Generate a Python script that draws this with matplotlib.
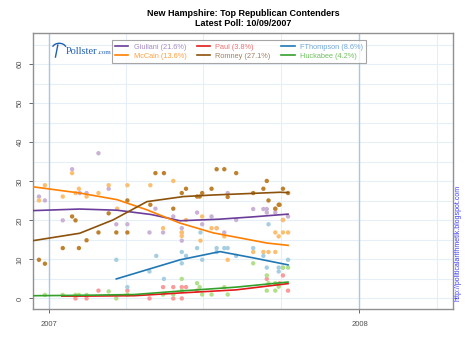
# -*- coding: utf-8 -*-
"""
New Hampshire: Top Republican Contenders - Pollster.com style chart
"""
import numpy as np
import matplotlib
matplotlib.use('Agg')
import matplotlib.pyplot as plt
import matplotlib.dates as mdates
from matplotlib.lines import Line2D
from matplotlib.patches import Arc

plt.rcParams['font.family'] = ['Liberation Sans', 'DejaVu Sans']

# days counted from 2007-01-01
base = np.datetime64('2007-01-01')

candidates = ['Giuliani', 'McCain', 'Paul', 'Romney', 'FThompson', 'Huckabee']
latest = [21.6, 13.6, 3.8, 27.1, 8.6, 4.2]

# trend lines
giuliani_trend_d = [-19, 36, 80, 120, 154, 200, 240, 281]
giuliani_trend_v = [22.5, 22.9, 22.6, 21.5, 19.9, 20.3, 20.9, 21.6]
mccain_trend_d = [-19, 36, 80, 115, 154, 193, 256, 281]
mccain_trend_v = [28.6, 27.0, 25.3, 22.7, 19.3, 16.8, 14.2, 13.6]
paul_trend_d = [15, 36, 100, 154, 220, 281]
paul_trend_v = [0.6, 0.6, 0.7, 1.4, 2.2, 3.8]
romney_trend_d = [-19, 36, 75, 115, 158, 193, 272, 281]
romney_trend_v = [14.8, 16.7, 20.1, 24.8, 26.1, 26.5, 27.2, 27.1]
fthompson_trend_d = [79, 154, 201, 240, 281]
fthompson_trend_v = [5.0, 9.9, 12.0, 10.4, 8.6]
huckabee_trend_d = [-19, 36, 100, 154, 220, 281]
huckabee_trend_v = [0.7, 0.8, 1.0, 1.9, 2.9, 4.2]

# individual polls
giuliani_poll_d = [-12, -5, 16, 27, 36, 44, 58, 70, 79, 92, 118, 125, 134, 146,
                   156, 156, 156, 174, 180, 191, 197, 206, 210, 220, 240, 252,
                   256, 256, 266, 266, 275, 281]
giuliani_poll_v = [26.1, 25.1, 20.0, 33.1, 27.0, 27.0, 37.2, 28.1, 19.0, 19.0,
                   16.9, 23.0, 16.9, 21.0, 18.0, 16.9, 14.8, 22.0, 19.0, 21.0,
                   18.0, 16.9, 27.0, 20.1, 22.9, 22.9, 22.9, 22.0, 22.9, 22.0,
                   20.1, 21.0]
mccain_poll_d = [-12, -5, 16, 27, 31, 35, 44, 58, 70, 80, 92, 119, 134, 146,
                 156, 156, 161, 178, 180, 191, 197, 206, 210, 240, 252, 258,
                 266, 266, 270, 275, 275, 281]
mccain_poll_v = [25.1, 29.0, 26.1, 32.1, 27.0, 28.1, 26.1, 27.0, 29.0, 23.0,
                 29.0, 29.0, 18.0, 30.1, 16.9, 16.0, 20.1, 14.8, 21.0, 18.0,
                 18.0, 15.9, 9.9, 11.9, 11.9, 11.9, 11.9, 16.9, 15.9, 16.9,
                 20.1, 16.9]
paul_poll_d = [31, 44, 58, 92, 118, 134, 146, 146, 156, 156, 161, 174, 256,
               271, 275, 281]
paul_poll_v = [0.0, 0.0, 2.0, 2.0, 0.0, 2.9, 2.9, 0.0, 2.9, 0.0, 2.9, 2.0, 5.0,
               3.9, 5.9, 2.0]
romney_poll_d = [-12, -5, 16, 27, 31, 35, 44, 58, 70, 79, 92, 92, 119, 125,
                 135, 146, 156, 161, 174, 177, 180, 191, 197, 206, 210, 220,
                 240, 252, 256, 258, 266, 270, 271, 275, 281]
romney_poll_v = [9.9, 8.9, 12.9, 21.0, 20.0, 12.9, 14.9, 16.9, 21.8, 16.9,
                 16.9, 25.1, 24.0, 32.1, 32.1, 23.0, 27.0, 28.1, 26.1, 26.1,
                 27.0, 28.1, 33.1, 33.1, 26.0, 32.1, 27.0, 28.1, 30.1, 25.1,
                 23.0, 24.0, 24.0, 28.1, 27.0]
fthompson_poll_d = [79, 92, 118, 126, 135, 156, 161, 156, 174, 178, 180, 197,
                    197, 206, 210, 220, 240, 252, 256, 258, 270, 270, 275, 281]
fthompson_poll_v = [9.9, 2.9, 6.9, 10.9, 5.0, 11.9, 10.9, 9.0, 12.9, 16.9, 9.9,
                    12.9, 11.9, 12.9, 12.9, 10.9, 12.9, 10.9, 7.9, 19.0, 7.9,
                    6.9, 7.9, 9.9]
huckabee_poll_d = [-5, 16, 31, 35, 44, 70, 79, 92, 134, 146, 156, 156, 174, 177,
                   180, 191, 206, 210, 240, 256, 258, 266, 256, 266, 270, 275,
                   281]
huckabee_poll_v = [0.9, 0.9, 0.9, 0.9, 0.9, 1.8, 0.0, 1.0, 1.0, 1.0, 2.0, 5.0,
                   3.9, 2.9, 1.0, 1.0, 2.9, 1.0, 9.0, 5.9, 3.9, 3.9, 2.0, 2.0,
                   3.0, 7.9, 7.9]

line_colors = ['#6a3d9a', '#ff7f00', '#e31a1c', '#8c510a', '#1f78b4', '#33a02c']
dot_colors = ['#cab2d6', '#fdbf6f', '#fb9a99', '#bf812d', '#a6cee3', '#b2df8a']
text_colors = ['#a58cc8', '#ffa040', '#f07070', '#a08060', '#70a8d8', '#70c060']

trends = [(giuliani_trend_d, giuliani_trend_v), (mccain_trend_d, mccain_trend_v),
          (paul_trend_d, paul_trend_v), (romney_trend_d, romney_trend_v),
          (fthompson_trend_d, fthompson_trend_v),
          (huckabee_trend_d, huckabee_trend_v)]
polls = [(giuliani_poll_d, giuliani_poll_v), (mccain_poll_d, mccain_poll_v),
         (paul_poll_d, paul_poll_v), (romney_poll_d, romney_poll_v),
         (fthompson_poll_d, fthompson_poll_v),
         (huckabee_poll_d, huckabee_poll_v)]


def to_dates(days):
    return (base + np.array(days, dtype='timedelta64[D]')).astype('datetime64[D]').astype(object)


fig = plt.figure(figsize=(4.7, 3.52), dpi=100)
ax = fig.add_axes([0.0702, 0.1222, 0.8936, 0.7841])

# grid
for y in range(-5, 70, 5):
    ax.axhline(y, color='#e6eef8', lw=0.8, zorder=0)
for m in ['2007-04-01', '2007-07-01', '2007-10-01', '2008-04-01']:
    ax.axvline(np.datetime64(m).astype(object), color='#e6eef8', lw=0.8, zorder=0)
for m in ['2007-01-01', '2008-01-01']:
    ax.axvline(np.datetime64(m).astype(object), color='#a9c6e2', lw=1.0, zorder=0)

for (pd_, pv), c in zip(polls, dot_colors):
    ax.scatter(to_dates(pd_), pv, s=10, color=c, edgecolors='none', zorder=2)
for (td, tv), c in zip(trends, line_colors):
    ax.plot(to_dates(td), tv, color=c, lw=1.2, zorder=3)

ax.set_xlim(to_dates([-19])[0], to_dates([475])[0])
ax.set_ylim(-2.7, 68)
ax.set_yticks(range(0, 61, 10))
ax.set_xticks(to_dates([0, 365]))
ax.xaxis.set_major_formatter(mdates.DateFormatter('%Y'))
ax.tick_params(axis='y', labelrotation=90, labelsize=5.5, colors='#505050',
               length=3, width=0.6)
ax.tick_params(axis='x', labelsize=5.5, colors='#505050', length=3, width=0.6,
               pad=6)
for lab in ax.get_yticklabels():
    lab.set_va('center')
for s in ax.spines.values():
    s.set_color('#909090')
    s.set_linewidth(1.0)

fig.text(0.517, 0.948, 'New Hampshire: Top Republican Contenders\nLatest Poll: 10/09/2007',
         ha='center', va='center', fontsize=6.5, fontweight='bold',
         linespacing=1.15)

handles = [Line2D([], [], color=c, lw=1.2) for c in line_colors]
labels = ['%s (%.1f%%)' % (n, p) for n, p in zip(candidates, latest)]
leg = fig.legend(handles, labels, ncol=3, loc='upper left',
                 bbox_to_anchor=(0.238, 0.886), fontsize=5.3, frameon=True,
                 fancybox=False, edgecolor='#909090', handlelength=1.8,
                 handletextpad=0.7, columnspacing=1.45, labelspacing=0.3,
                 borderpad=0.45, borderaxespad=0)
leg.get_frame().set_linewidth(0.8)
for t, c in zip(leg.get_texts(), text_colors):
    t.set_color(c)

# Pollster logo
fig.text(0.14, 0.855, 'Pollster', fontsize=7.5, color='#1f5fb4',
         family='Liberation Serif', va='center')
fig.text(0.208, 0.851, '.com', fontsize=5, color='#1f5fb4',
         family='Liberation Serif', va='center')
fig.add_artist(Arc((0.126, 0.862), 0.03, 0.03, theta1=20, theta2=160,
                   transform=fig.transFigure, color='#1f5fb4', lw=1.0))
fig.add_artist(Line2D([0.123, 0.118], [0.872, 0.838], transform=fig.transFigure,
                      color='#1f5fb4', lw=1.0))

fig.text(0.975, 0.31, 'http://politicalarithmetik.blogspot.com', rotation=90,
         fontsize=5, color='#3a3aff', ha='center', va='center')

fig.savefig('out.png', dpi=100)
plt.close('all')
